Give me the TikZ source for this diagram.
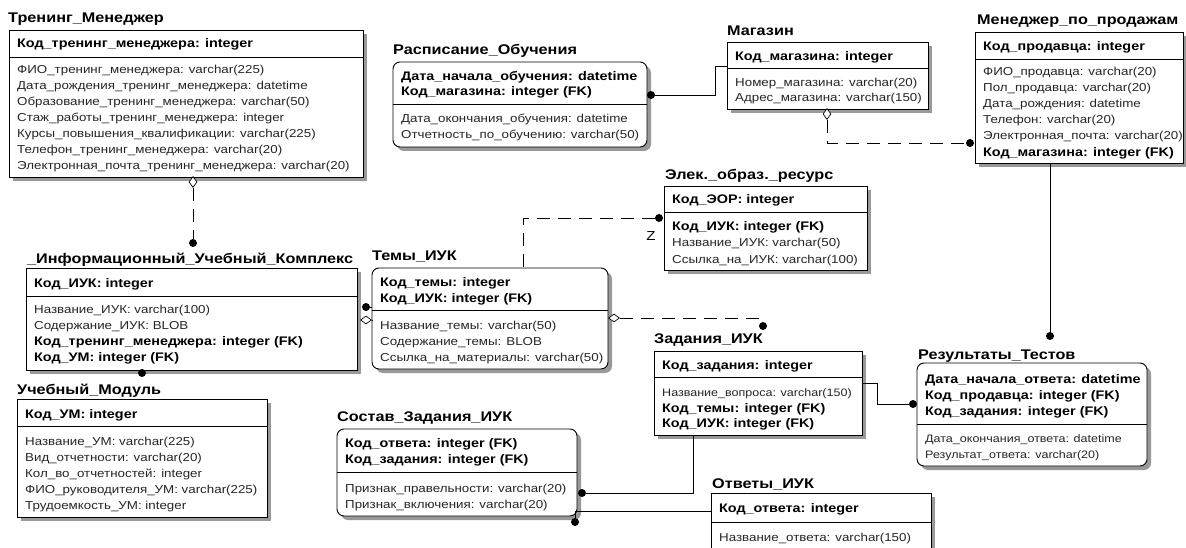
\documentclass[tikz,border=0pt]{standalone}
\usepackage{fontspec}
\setmainfont{Liberation Sans}[FakeStretch=1.16]
\usetikzlibrary{shapes.geometric,shadows}
\tikzset{
  x=1pt,y=-1pt,
  ent/.style={draw, line width=0.9pt, fill=white, inner sep=0pt, outer sep=0pt, anchor=north west,
    drop shadow={shadow xshift=4pt, shadow yshift=-4pt, fill=black!40, opacity=1}},
  dep/.style={ent, rounded corners=7pt},
  sepst/.style={line width=0.8pt},
  ttlst/.style={anchor=base west, inner sep=0pt, font=\bfseries\fontsize{14}{16}\selectfont},
  keyst/.style={anchor=base west, inner sep=0pt, font=\bfseries\fontsize{12.4}{14}\selectfont},
  attst/.style={anchor=base west, inner sep=0pt, font=\fontsize{11.5}{14}\selectfont, text=black!85},
  smattst/.style={attst, font=\fontsize{10.8}{13}\selectfont},
  zst/.style={inner sep=0pt, font=\fontsize{13}{15}\selectfont},
  conn/.style={line width=0.8pt},
  dsh/.style={line width=0.8pt, dash pattern=on 13pt off 8pt},
  dotst/.style={circle, fill=black, inner sep=0pt, minimum size=8pt},
  dmv/.style={diamond, draw, fill=white, line width=0.7pt, inner sep=0pt, minimum width=8pt, minimum height=11pt},
  dmh/.style={diamond, draw, fill=white, line width=0.7pt, inner sep=0pt, minimum width=11pt, minimum height=8pt},
}
\newcommand\erT[3]{\node[ttlst] at ({#1},{#2+5}) {#3};}
\newcommand\erK[3]{\node[keyst] at ({#1},{#2+4}) {#3};}
\newcommand\erA[3]{\node[attst] at ({#1},{#2+4}) {#3};}
\newcommand\erBox[7]{%
  \node[#1, minimum width={#5-#3}, minimum height={#6-#4}] (#2) at (#3,#4) {};
  \draw[sepst] (#3,#7) -- (#5,#7);}
\begin{document}
\begin{tikzpicture}
\useasboundingbox (0,0) rectangle (1186,548);
\fill[white] (0,0) rectangle (1186,548);

% Тренинг_Менеджер
\erBox{ent}{tm}{9}{30}{363}{177}{57}
\erT{8}{18}{Тренинг\_Менеджер}
\erK{17}{44}{Код\_тренинг\_менеджера: integer}
\erA{17}{70}{ФИО\_тренинг\_менеджера: varchar(225)}
\erA{17}{86}{Дата\_рождения\_тренинг\_менеджера: datetime}
\erA{17}{102}{Образование\_тренинг\_менеджера: varchar(50)}
\erA{17}{118}{Стаж\_работы\_тренинг\_менеджера: integer}
\erA{17}{134}{Курсы\_повышения\_квалификации: varchar(225)}
\erA{17}{150}{Телефон\_тренинг\_менеджера: varchar(20)}
\erA{17}{166}{Электронная\_почта\_тренинг\_менеджера: varchar(20)}

% Расписание_Обучения
\erBox{dep}{ro}{393}{62}{647}{147}{104}
\erT{393}{50}{Расписание\_Обучения}
\erK{401}{77}{Дата\_начала\_обучения: datetime}
\erK{401}{92}{Код\_магазина: integer (FK)}
\erA{401}{119}{Дата\_окончания\_обучения: datetime}
\erA{401}{135}{Отчетность\_по\_обучению: varchar(50)}

% Магазин
\erBox{ent}{mg}{727}{42}{928}{109}{68}
\erT{727}{31}{Магазин}
\erK{735}{57}{Код\_магазина: integer}
\erA{735}{83}{Номер\_магазина: varchar(20)}
\erA{735}{98}{Адрес\_магазина: varchar(150)}

% Менеджер_по_продажам
\erBox{ent}{mp}{975}{32}{1183}{163}{59}
\erT{977}{20}{Менеджер\_по\_продажам}
\erK{983}{47}{Код\_продавца: integer}
\erA{983}{72}{ФИО\_продавца: varchar(20)}
\erA{983}{88}{Пол\_продавца: varchar(20)}
\erA{983}{104}{Дата\_рождения: datetime}
\erA{983}{120}{Телефон: varchar(20)}
\erA{983}{136}{Электронная\_почта: varchar(20)}
\erK{983}{153}{Код\_магазина: integer (FK)}

% Элек._образ._ресурс
\erBox{ent}{eor}{664}{186}{867}{270}{212}
\erT{665}{175}{Элек.\_образ.\_ресурс}
\erK{672}{200}{Код\_ЭОР: integer}
\erK{672}{227}{Код\_ИУК: integer (FK)}
\erA{672}{243}{Название\_ИУК: varchar(50)}
\erA{672}{259}{Ссылка\_на\_ИУК: varchar(100)}

% _Информационный_Учебный_Комплекс
\erBox{ent}{iuk}{26}{268}{357}{370}{296}
\erT{27}{258}{\_Информационный\_Учебный\_Комплекс}
\erK{34}{283}{Код\_ИУК: integer}
\erA{34}{309}{Название\_ИУК: varchar(100)}
\erA{34}{325}{Содержание\_ИУК: BLOB}
\erK{34}{341}{Код\_тренинг\_менеджера: integer (FK)}
\erK{34}{357}{Код\_УМ: integer (FK)}

% Темы_ИУК
\erBox{dep}{ti}{372}{268}{608}{369}{310}
\erT{372}{256}{Темы\_ИУК}
\erK{380}{282}{Код\_темы: integer}
\erK{380}{298}{Код\_ИУК: integer (FK)}
\erA{380}{325}{Название\_темы: varchar(50)}
\erA{380}{341}{Содержание\_темы: BLOB}
\erA{380}{357}{Ссылка\_на\_материалы: varchar(50)}

% Учебный_Модуль
\erBox{ent}{um}{17}{399}{267}{517}{426}
\erT{17}{389}{Учебный\_Модуль}
\erK{25}{414}{Код\_УМ: integer}
\erA{25}{441}{Название\_УМ: varchar(225)}
\erA{25}{457}{Вид\_отчетности: varchar(20)}
\erA{25}{473}{Кол\_во\_отчетностей: integer}
\erA{25}{489}{ФИО\_руководителя\_УМ: varchar(225)}
\erA{25}{505}{Трудоемкость\_УМ: integer}

% Состав_Задания_ИУК
\erBox{dep}{sz}{337}{429}{577}{516}{472}
\erT{337}{416}{Состав\_Задания\_ИУК}
\erK{345}{443}{Код\_ответа: integer (FK)}
\erK{345}{459}{Код\_задания: integer (FK)}
\erA{345}{488}{Признак\_правельности: varchar(20)}
\erA{345}{504}{Признак\_включения: varchar(20)}

% Задания_ИУК
\erBox{ent}{zi}{654}{351}{862}{435}{377}
\erT{654}{338}{Задания\_ИУК}
\erK{662}{365}{Код\_задания: integer}
\node[smattst] at (662,396) {Название\_вопроса: varchar(150)};
\erK{662}{408}{Код\_темы: integer (FK)}
\erK{662}{423}{Код\_ИУК: integer (FK)}

% Результаты_Тестов
\erBox{dep}{rt}{917}{363}{1147}{466}{424}
\erT{918}{354}{Результаты\_Тестов}
\erK{925}{379}{Дата\_начала\_ответа: datetime}
\erK{925}{395}{Код\_продавца: integer (FK)}
\erK{925}{411}{Код\_задания: integer (FK)}
\node[smattst] at (925,442) {Дата\_окончания\_ответа: datetime};
\node[smattst] at (925,458) {Результат\_ответа: varchar(20)};

% Ответы_ИУК
\erBox{ent}{oi}{711}{493}{931}{560}{522}
\erT{712}{483}{Ответы\_ИУК}
\erK{719}{508}{Код\_ответа: integer}
\erA{719}{537}{Название\_ответа: varchar(150)}

% ---- connectors ----
% Тренинг_Менеджер -> ИУК
\node[dmv] (dmA) at (193,182) {};
\node[dotst] (dtA) at (193,243) {};
\draw[dsh] (dmA) -- (dtA);
% Расписание -> Магазин
\node[dotst] (dtB) at (651,95) {};
\draw[conn] (dtB) -- (715,95) |- (mg.west |- 0,66);
% Магазин -> Менеджер
\node[dmv] (dmC) at (827,114) {};
\node[dotst] (dtC) at (970,143) {};
\draw[dsh] (dmC) |- (dtC);
% Менеджер -> Результаты
\node[dotst] (dtD) at (1050,336) {};
\draw[conn] (dtD) -- (dtD |- mp.south);
% Элек -> Темы
\node[dotst] (dtE) at (659,218) {};
\draw[dsh] (dtE) -| (ti.north -| 523,0);
\node[zst] (zl) at (651,236) {Z};
% Темы -> Задания
\node[dmh] (dmF) at (614,318) {};
\node[dotst] (dtF) at (763,326) {};
\draw[dsh] (dmF) -| (dtF);
% ИУК -> Темы
\node[dotst] (dtG) at (366,307) {};
\draw[conn] (dtG) -- (ti.west |- dtG);
\node[dmh] (dmG) at (366,320) {};
\draw[conn] (dmG) -- (ti.west |- dmG);
% ИУК -> Учебный_Модуль
\node[dotst] (dtH) at (142,373) {};
\draw[conn] (dtH) -- (iuk.south -| dtH);
% Состав -> Задания
\node[dotst] (dtI) at (582,493) {};
\draw[conn] (dtI) -| (zi.south -| 693,0);
% Состав -> Ответы
\node[dotst] (dtJ) at (575,522) {};
\draw[conn] (dtJ) |- (oi.west |- 0,511);
% Задания -> Результаты
\node[dotst] (dtK) at (913,404) {};
\draw[conn] (zi.east |- 0,383) -- (877,383) |- (dtK);
\end{tikzpicture}
\end{document}
